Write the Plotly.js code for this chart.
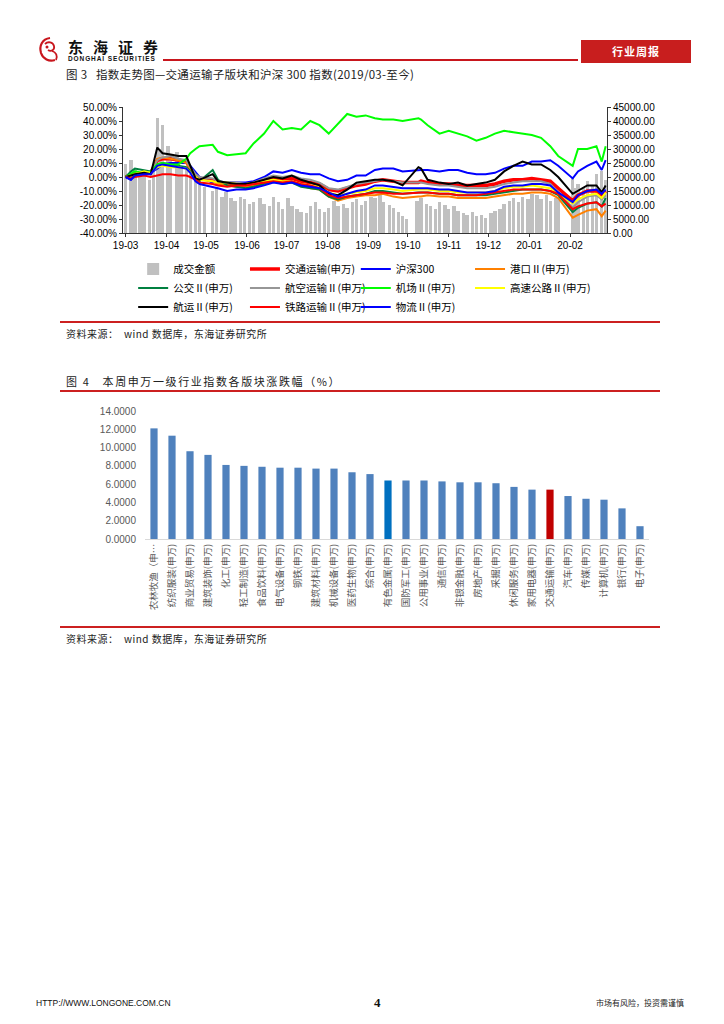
<!DOCTYPE html>
<html><head><meta charset="utf-8">
<script src="https://cdn.plot.ly/plotly-3.0.1.min.js"></script>
<style>
body{margin:0;width:724px;height:1024px;position:relative;background:#fff;font-family:"Noto Sans CJK SC",sans-serif;overflow:hidden}
.t{position:absolute;white-space:nowrap;line-height:1}
.rl{position:absolute;left:60px;width:600px;height:2px;background:#CC2020}
</style></head><body>

<svg style="position:absolute;left:36px;top:36px" width="28" height="28" viewBox="0 0 28 28">
<path d="M14 2 C6 3 3 10 5 17 C7 23 13 26 19 24" stroke="#C8161D" stroke-width="2.2" fill="none"/>
<path d="M9 8 C12 5 17 6 18 10 C19 14 15 16 12 14" stroke="#C8161D" stroke-width="1.8" fill="none"/>
<path d="M16 15 C20 16 22 20 20 24" stroke="#C8161D" stroke-width="1.8" fill="none"/>
<circle cx="11" cy="11" r="1.5" fill="#C8161D"/>
</svg>
<div class="t" style="left:68px;top:39px;font-size:15px;font-weight:bold;letter-spacing:10px;color:#111">东海证券</div>
<div class="t" style="left:68px;top:56px;font-family:'Liberation Sans';font-size:6.5px;font-weight:bold;letter-spacing:0.9px;color:#111">DONGHAI SECURITIES</div>
<div style="position:absolute;left:163px;top:59px;width:415px;height:1.5px;background:#C8161D"></div>
<div style="position:absolute;left:581px;top:40px;width:110px;height:23px;background:#C81E1E;color:#fff;font-size:11px;font-weight:bold;text-align:center;line-height:23px;letter-spacing:1px">行业周报</div>

<div class="t" style="left:66px;top:69px;font-size:11.5px;letter-spacing:0.3px;color:#222">图 3&nbsp;&nbsp;&nbsp;指数走势图—交通运输子版块和沪深 300 指数(2019/03-至今)</div>

<div id="c1" style="position:absolute;left:0;top:90px;width:724px;height:240px"></div>

<div class="rl" style="top:321px"></div>
<div class="t" style="left:66px;top:329px;font-size:10px;letter-spacing:0.5px;color:#222">资料来源：&nbsp;&nbsp;wind 数据库，东海证券研究所</div>

<div class="t" style="left:66px;top:376px;font-size:11px;letter-spacing:1.6px;color:#222">图 4&nbsp;&nbsp;&nbsp;本周申万一级行业指数各版块涨跌幅（%）</div>
<div class="rl" style="top:390px"></div>

<div id="c2" style="position:absolute;left:0;top:395px;width:724px;height:232px"></div>

<div class="rl" style="top:626px"></div>
<div class="t" style="left:66px;top:634px;font-size:10px;letter-spacing:0.5px;color:#222">资料来源：&nbsp;&nbsp;wind 数据库，东海证券研究所</div>

<div class="t" style="left:36px;top:999px;font-family:'Liberation Sans';font-size:8.5px;color:#111">HTTP://WWW.LONGONE.COM.CN</div>
<div class="t" style="left:374px;top:996px;font-family:'Liberation Serif';font-size:13px;font-weight:bold;color:#111">4</div>
<div class="t" style="left:596px;top:999px;font-size:8px;color:#222">市场有风险，投资需谨慎</div>

<script>
// ---------- Figure 3 data ----------
const lineDates = ['2019-03-01','2019-03-05','2019-03-08','2019-03-15','2019-03-20','2019-03-25','2019-03-29','2019-04-04','2019-04-10','2019-04-16','2019-04-19','2019-04-23','2019-04-26','2019-05-06','2019-05-10','2019-05-17','2019-05-24','2019-05-31','2019-06-06','2019-06-14','2019-06-21','2019-06-28','2019-07-05','2019-07-12','2019-07-19','2019-07-26','2019-08-02','2019-08-09','2019-08-16','2019-08-23','2019-08-30','2019-09-06','2019-09-12','2019-09-20','2019-09-27','2019-10-09','2019-10-11','2019-10-16','2019-10-25','2019-11-01','2019-11-08','2019-11-15','2019-11-22','2019-11-29','2019-12-06','2019-12-13','2019-12-20','2019-12-27','2020-01-03','2020-01-10','2020-01-17','2020-01-23','2020-02-03','2020-02-07','2020-02-14','2020-02-21','2020-02-25','2020-02-28'];

const jiaotong = [0,1,2,3,3,12,13,13,12,11,6,1,-1,-2,-4,-5,-5,-6,-5,-3,-1,-2,-1,-3,-4,-5,-9,-10,-8,-6,-5,-3,-2,-3,-4,-4,-3,-4,-5,-5,-6,-6,-6,-6,-5,-3,-2,-2,-1,-2,-3,-8,-17,-13,-10,-10,-13,-10];
const hs300 = [0,-2,1,2,3,6,9,10,10,10,8,3,0,-4,-3,-4,-4,-4,-3,0,4,3,5,3,2,2,-1,-3,-2,1,1,5,6,6,4,5,5,5,4,5,5,3,2,2,3,6,8,8,11,11,12,8,-1,4,8,11,5,12];
const gangkou = [0,1,2,3,2,13,14,13,12,10,6,0,-2,-3,-5,-6,-7,-7,-6,-4,-2,-4,-3,-6,-8,-9,-14,-17,-15,-14,-13,-13,-12,-14,-15,-14,-14,-13,-14,-14,-15,-15,-15,-15,-14,-13,-12,-12,-11,-11,-12,-15,-29,-27,-24,-23,-28,-24];
const gongjiao = [0,4,6,5,4,9,10,9,8,7,4,-1,-3,5,-2,-6,-7,-8,-7,-5,-3,-5,-4,-7,-8,-9,-14,-16,-14,-13,-12,-10,-10,-11,-12,-11,-11,-11,-12,-12,-13,-13,-13,-13,-12,-11,-10,-9,-9,-9,-10,-13,-25,-22,-19,-18,-21,-15];
const hangkong = [0,1,2,3,3,12,14,15,13,12,7,2,0,-1,-3,-4,-4,-5,-4,-1,1,0,1,-1,-2,-4,-8,-9,-7,-5,-4,-3,-2,-3,-4,-4,-4,-5,-6,-6,-7,-8,-8,-8,-7,-5,-4,-3,-3,-3,-5,-11,-22,-18,-14,-13,-16,-13];
const jichang = [0,2,4,3,4,9,10,9,9,13,17,20,22,23,18,15.5,16,17,24,31,40,34,35,34,40,37,31,38,45,43,44,42,41,41,40,42,41,37,31,33,31,29,26,28,31,33,32,31,30,28,22,15,8,20,20,22,11,22];
const gaosu = [0,1,2,4,3,7,8,7,7,6,3,0,-2,-3,-4,-4,-5,-5,-4,-3,-2,-3,-3,-5,-6,-7,-11,-13,-12,-11,-10,-8,-8,-9,-10,-9,-9,-9,-10,-10,-11,-11,-11,-11,-10,-8,-7,-7,-6,-7,-8,-12,-19,-16,-13,-12,-15,-11];
const hangyun = [0,1,2,3,2,21,17,16,15,15,8,-1,-2,2,-3,-4,-5,-5,-4,-2,0,-1,1,-2,-4,-6,-12,-13,-9,-4,-3,-2,-2,-3,-6,7,6,-2,-4,-5,-4,-6,-5,-4,-2,4,8,11,9,9,5,0,-12,-10,-6,-6,-11,-6];
const tielu = [0,-1,0,1,0,1,2,2,1,1,0,-2,-4,-5,-6,-7,-6,-6,-5,-4,-3,-4,-3,-5,-6,-8,-13,-15,-14,-13,-12,-11,-11,-12,-12,-11,-11,-11,-12,-12,-13,-13,-13,-12,-11,-10,-9,-9,-9,-9,-10,-12,-23,-21,-19,-18,-21,-19];
const wuliu = [0,-2,1,2,2,8,9,8,7,6,3,-3,-5,-7,-8,-10,-9,-9,-8,-6,-4,-5,-4,-6,-7,-8,-11,-14,-12,-10,-9,-6,-6,-7,-8,-8,-8,-8,-9,-9,-10,-11,-11,-11,-10,-7,-6,-6,-5,-5,-6,-11,-18,-13,-10,-9,-12,-9];

const volDates = ['2019-03-01','2019-03-05','2019-03-08','2019-03-12','2019-03-15','2019-03-19','2019-03-22','2019-03-25','2019-03-27','2019-03-29',
'2019-04-02','2019-04-04','2019-04-09','2019-04-12','2019-04-16','2019-04-19','2019-04-23','2019-04-26','2019-04-30','2019-05-06',
'2019-05-09','2019-05-13','2019-05-16','2019-05-20','2019-05-23','2019-05-27','2019-05-30','2019-06-03','2019-06-06','2019-06-11',
'2019-06-14','2019-06-18','2019-06-21','2019-06-25','2019-06-28','2019-07-02','2019-07-05','2019-07-09','2019-07-12','2019-07-16',
'2019-07-19','2019-07-23','2019-07-26','2019-07-30','2019-08-02','2019-08-06','2019-08-09','2019-08-13','2019-08-16','2019-08-20',
'2019-08-23','2019-08-27','2019-08-30','2019-09-03','2019-09-06','2019-09-10','2019-09-12','2019-09-17','2019-09-20','2019-09-24',
'2019-09-27','2019-09-30','2019-10-08','2019-10-11','2019-10-15','2019-10-18','2019-10-22','2019-10-25','2019-10-29','2019-11-01',
'2019-11-05','2019-11-08','2019-11-12','2019-11-15','2019-11-19','2019-11-22','2019-11-26','2019-11-29','2019-12-03','2019-12-06',
'2019-12-10','2019-12-13','2019-12-17','2019-12-20','2019-12-24','2019-12-27','2019-12-31','2020-01-03','2020-01-07','2020-01-10',
'2020-01-14','2020-01-17','2020-01-21','2020-01-23','2020-02-03','2020-02-05','2020-02-07','2020-02-11','2020-02-14','2020-02-18',
'2020-02-21','2020-02-25','2020-02-28'];
const volume = [24500,26000,23000,22000,21500,19000,22000,41000,30000,38500,
31000,28000,29000,24000,23500,21000,19000,17000,16500,15000,
16000,13000,14500,12500,11500,13000,12000,10500,11000,12500,
10500,9500,13000,11000,8500,12500,9500,8500,7500,7000,
9500,11000,8500,7500,9000,11500,9500,10500,9000,11000,
12000,10000,11500,13000,12500,13500,11000,10000,9000,7500,
6000,5000,11500,12500,10500,9500,8500,11000,10000,8500,
9500,8000,7000,6500,7500,6000,6500,5500,7000,8000,
8500,10500,11500,12500,11000,13000,12000,14000,13500,12000,
13500,11500,12500,13000,19500,16000,17500,16500,18500,17000,
21000,22000,19000];

const leftTicks = [-40,-30,-20,-10,0,10,20,30,40,50];
const rightTicks = [0,5000,10000,15000,20000,25000,30000,35000,40000,45000];

// ---------- Figure 4 data ----------
const industries = ['农林牧渔（申…','纺织服装(申万)','商业贸易(申万)','建筑装饰(申万)','化工(申万)','轻工制造(申万)','食品饮料(申万)','电气设备(申万)','钢铁(申万)','建筑材料(申万)','机械设备(申万)','医药生物(申万)','综合(申万)','有色金属(申万)','国防军工(申万)','公用事业(申万)','通信(申万)','非银金融(申万)','房地产(申万)','采掘(申万)','休闲服务(申万)','家用电器(申万)','交通运输(申万)','汽车(申万)','传媒(申万)','计算机(申万)','银行(申万)','电子(申万)'];
const weeklyChange = [12.1,11.3,9.6,9.2,8.1,8.0,7.9,7.8,7.8,7.7,7.7,7.3,7.1,6.4,6.4,6.4,6.3,6.2,6.2,6.1,5.7,5.4,5.4,4.7,4.4,4.3,3.35,1.4];
const barTicks = [0,2,4,6,8,10,12,14];

// ---------- Figure 3 ----------
// [name, values, colour, width, legend column]
const lineSeries = [
  ['交通运输(申万)', jiaotong, '#FF0000', 3.5, 'legend2'],
  ['沪深300', hs300, '#0000FF', 2, 'legend3'],
  ['港口Ⅱ(申万)', gangkou, '#FF8000', 2, 'legend4'],
  ['公交Ⅱ(申万)', gongjiao, '#008040', 2, 'legend'],
  ['航空运输Ⅱ(申万)', hangkong, '#969696', 2, 'legend2'],
  ['机场Ⅱ(申万)', jichang, '#00FF00', 2, 'legend3'],
  ['高速公路Ⅱ(申万)', gaosu, '#FFFF00', 2, 'legend4'],
  ['航运Ⅱ(申万)', hangyun, '#000000', 2, 'legend'],
  ['铁路运输Ⅱ(申万)', tielu, '#FF0000', 2, 'legend2'],
  ['物流Ⅱ(申万)', wuliu, '#0000FF', 2, 'legend3']
];
const traces1 = [{
  type:'bar', name:'成交金额', x:volDates, y:volume, yaxis:'y', legend:'legend',
  width:2.6*86400000, marker:{color:'#C0C0C0', line:{width:0}}
}];
lineSeries.forEach(s => traces1.push({
  type:'scatter', mode:'lines', name:s[0], x:lineDates, y:s[1], yaxis:'y2', legend:s[4],
  line:{color:s[2], width:s[3]}
}));
const tickF = {family:'Liberation Sans', size:10, color:'#000'};
const legFont = {family:'Noto Sans CJK SC', size:10.5, color:'#000'};
const legendAt = x => ({orientation:'v', x:x, xanchor:'left', y:-0.171, yanchor:'top',
  traceorder:'normal', font:legFont, bgcolor:'rgba(0,0,0,0)', borderwidth:0});
Plotly.newPlot('c1', traces1, {
  width:724, height:240,
  margin:{l:123, r:117, t:17, b:97, autoexpand:false},
  paper_bgcolor:'#fff', plot_bgcolor:'#fff',
  showlegend:true,
  legend:legendAt(0.021), legend2:legendAt(0.252), legend3:legendAt(0.481), legend4:legendAt(0.717),
  xaxis:{type:'date', range:['2019-02-27','2020-02-29'], tick0:'2019-03-01', dtick:'M1',
         tickformat:'%y-%m', ticks:'outside', ticklen:3, tickcolor:'#333',
         showline:true, linecolor:'#333', linewidth:1, showgrid:false, zeroline:false, tickfont:tickF},
  yaxis:{side:'right', range:[0,45000], tickvals:rightTicks, ticktext:rightTicks.map(v=>v.toFixed(2)),
         ticks:'outside', ticklen:3, tickcolor:'#333', showline:true, linecolor:'#333',
         showgrid:false, zeroline:false, tickfont:tickF},
  yaxis2:{overlaying:'y', side:'left', range:[-40,50], tickvals:leftTicks, ticktext:leftTicks.map(v=>v.toFixed(2)+'%'),
          ticks:'outside', ticklen:3, tickcolor:'#333', showline:true, linecolor:'#333',
          showgrid:false, zeroline:false, tickfont:tickF},
  bargap:0
}, {staticPlot:true, displayModeBar:false});

// ---------- Figure 4 ----------
const highlight = {'有色金属(申万)':'#0070C0', '交通运输(申万)':'#C00000'};
Plotly.newPlot('c2', [{
  type:'bar', x:industries, y:weeklyChange,
  marker:{color:industries.map(c => highlight[c] || '#4F81BD'), line:{width:0}}
}], {
  width:724, height:232,
  margin:{l:145, r:75, t:16, b:88, autoexpand:false},
  paper_bgcolor:'#fff', plot_bgcolor:'#fff',
  showlegend:false, bargap:0.6,
  xaxis:{type:'category', tickangle:-90, showline:true, linecolor:'#D9D9D9', linewidth:1,
         ticks:'', showgrid:false, zeroline:false,
         tickfont:{family:'Noto Sans CJK SC', size:9.5, color:'#595959'}},
  yaxis:{range:[0,14], tickvals:barTicks, ticktext:barTicks.map(v=>v.toFixed(4)),
         showline:false, showgrid:false, zeroline:false, ticks:'', ticklabelstandoff:8,
         tickfont:{family:'Liberation Sans', size:10, color:'#595959'}}
}, {staticPlot:true, displayModeBar:false});
</script>
</body></html>
